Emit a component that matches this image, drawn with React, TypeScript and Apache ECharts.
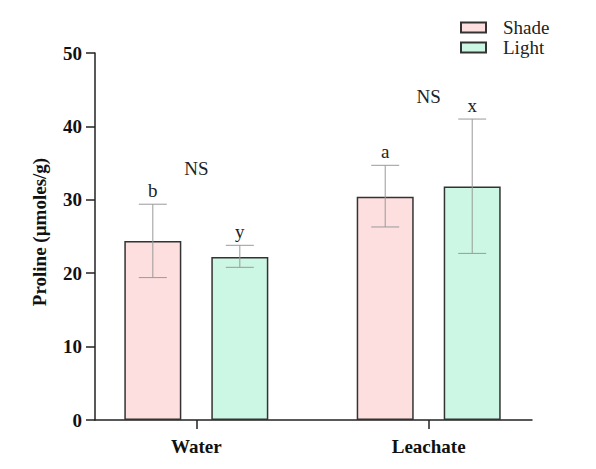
import React, { useEffect, useRef } from "react";
import * as echarts from "echarts";

const categories = ["Water", "Leachate"];
const shadeMean = [24.4, 30.4];
const shadeLow = [19.4, 26.3];
const shadeHigh = [29.4, 34.7];
const lightMean = [22.2, 31.8];
const lightLow = [20.8, 22.7];
const lightHigh = [23.8, 41.0];
const shadeLetters = ["b", "a"];
const lightLetters = ["y", "x"];
const nsLabels = ["NS", "NS"];
const nsLevel = [34.3, 44.1];
const yTicks = [0, 10, 20, 30, 40, 50];

const FONT = "'Liberation Serif', 'Times New Roman', serif";
const BAR_W = 57;
const BAR_GAP = 30;
const OFFSET = (BAR_W + BAR_GAP) / 2;

function errorSeries(name: string, low: number[], high: number[], letters: string[], sign: number) {
  return {
    type: "custom",
    name: name + "-err",
    z: 5,
    silent: true,
    encode: { x: 0, y: [1, 2] },
    data: low.map((l, i) => [i, l, high[i]]),
    renderItem: (params: any, api: any) => {
      const x = api.value(0);
      const pLo = api.coord([x, api.value(1)]);
      const pHi = api.coord([x, api.value(2)]);
      const cx = pLo[0] + sign * OFFSET;
      const cap = 14;
      const st = { stroke: "#9a9a9a", lineWidth: 1 };
      return {
        type: "group",
        children: [
          { type: "line", shape: { x1: cx, y1: pHi[1], x2: cx, y2: pLo[1] }, style: st },
          { type: "line", shape: { x1: cx - cap, y1: pHi[1], x2: cx + cap, y2: pHi[1] }, style: st },
          { type: "line", shape: { x1: cx - cap, y1: pLo[1], x2: cx + cap, y2: pLo[1] }, style: st },
          {
            type: "text",
            x: cx,
            y: pHi[1] - 14,
            style: {
              text: letters[params.dataIndex],
              align: "center",
              verticalAlign: "middle",
              font: `19px ${FONT}`,
              fill: "#222",
            },
          },
        ],
      };
    },
  };
}

export default function App() {
  const ref = useRef<HTMLDivElement>(null);
  useEffect(() => {
    if (!ref.current) return;
    const chart = echarts.init(ref.current, undefined, { renderer: "svg" });
    const option: any = {
      animation: false,
      backgroundColor: "#fff",
      grid: { left: 95, right: 64, top: 53, bottom: 49 },
      legend: {
        data: ["Shade", "Light"],
        orient: "vertical",
        left: 460,
        top: 18,
        padding: 0,
        itemWidth: 25,
        itemHeight: 10,
        itemGap: 1,
        icon: "rect",
        textStyle: { fontFamily: FONT, fontSize: 19, color: "#222", padding: [0, 0, 0, 12] },
      },
      xAxis: {
        type: "value",
        min: -0.436,
        max: 1.4445,
        splitLine: { show: false },
        axisLine: { show: true, onZero: false, lineStyle: { color: "#222", width: 1.5 } },
        axisTick: { show: true, length: 9, customValues: [0, 1], lineStyle: { color: "#222", width: 1.5 } },
        axisLabel: {
          customValues: [0, 1],
          formatter: (v: number) => categories[Math.round(v)] ?? "",
          fontFamily: FONT,
          fontSize: 19,
          fontWeight: "bold",
          color: "#111",
          margin: 17,
        },
      },
      yAxis: {
        type: "value",
        min: 0,
        max: 50,
        interval: 10,
        splitLine: { show: false },
        axisLine: { show: true, onZero: false, lineStyle: { color: "#222", width: 1.5 } },
        axisTick: { show: true, length: 9, lineStyle: { color: "#222", width: 1.5 } },
        axisLabel: {
          fontFamily: FONT,
          fontSize: 19,
          fontWeight: "bold",
          color: "#111",
          margin: 13,
          formatter: (v: number) => (yTicks.includes(v) ? String(v) : ""),
        },
      },
      graphic: [
        {
          type: "text",
          x: 39,
          y: 232,
          rotation: Math.PI / 2,
          style: {
            text: "Proline (µmoles/g)",
            align: "center",
            verticalAlign: "middle",
            font: `bold 19px ${FONT}`,
            fill: "#111",
          },
        },
      ],
      series: [
        {
          type: "bar",
          name: "Shade",
          barWidth: BAR_W,
          barGap: `${(BAR_GAP / BAR_W) * 100}%`,
          itemStyle: { color: "#FDDFDF", borderColor: "#333", borderWidth: 1.5 },
          data: shadeMean.map((v, i) => [i, v]),
        },
        {
          type: "bar",
          name: "Light",
          barWidth: BAR_W,
          barGap: `${(BAR_GAP / BAR_W) * 100}%`,
          itemStyle: { color: "#CCF7E5", borderColor: "#333", borderWidth: 1.5 },
          data: lightMean.map((v, i) => [i, v]),
        },
        errorSeries("Shade", shadeLow, shadeHigh, shadeLetters, -1),
        errorSeries("Light", lightLow, lightHigh, lightLetters, 1),
        {
          type: "custom",
          name: "ns",
          silent: true,
          z: 5,
          encode: { x: 0, y: 1 },
          data: nsLevel.map((v, i) => [i, v]),
          renderItem: (params: any, api: any) => {
            const p = api.coord([api.value(0), api.value(1)]);
            return {
              type: "text",
              x: p[0],
              y: p[1],
              style: {
                text: nsLabels[params.dataIndex],
                align: "center",
                verticalAlign: "middle",
                font: `19px ${FONT}`,
                fill: "#222",
              },
            };
          },
        },
      ],
    };
    chart.setOption(option);
    return () => chart.dispose();
  }, []);
  return <div ref={ref} style={{ position: "absolute", left: 0, top: 0, width: 596, height: 469 }} />;
}
